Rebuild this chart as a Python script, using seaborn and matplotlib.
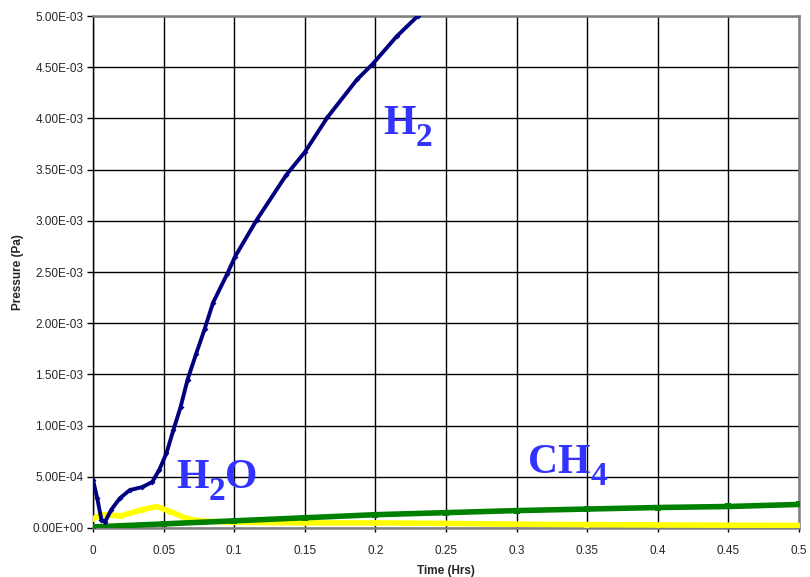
import matplotlib
matplotlib.use("Agg")
import matplotlib.pyplot as plt
import matplotlib.transforms as mtransforms
import seaborn as sns
import pandas as pd
from matplotlib.ticker import FuncFormatter, MultipleLocator

# values
h2_time = [0, 0.003, 0.006, 0.0085, 0.013, 0.019, 0.026, 0.035, 0.042, 0.047,
           0.052, 0.057, 0.062, 0.067, 0.073, 0.079, 0.085, 0.095, 0.1006,
           0.116, 0.137, 0.150, 0.166, 0.187, 0.198, 0.215, 0.230]
h2_pres = [4.7e-4, 2.9e-4, 0.8e-4, 0.6e-4, 1.8e-4, 2.9e-4, 3.7e-4, 4.0e-4, 4.5e-4, 5.7e-4,
           7.3e-4, 9.6e-4, 1.18e-3, 1.45e-3, 1.70e-3, 1.94e-3, 2.2e-3, 2.48e-3, 2.65e-3,
           3.01e-3, 3.45e-3, 3.67e-3, 4.01e-3, 4.38e-3, 4.53e-3, 4.80e-3, 5.0e-3]

h2o_time = [0, 0.006, 0.02, 0.035, 0.045, 0.055, 0.065, 0.075, 0.1, 0.15,
            0.2, 0.25, 0.3, 0.35, 0.4, 0.45, 0.5]
h2o_pres = [0.9e-4, 1.3e-4, 1.2e-4, 1.8e-4, 2.1e-4, 1.6e-4, 1.0e-4, 0.7e-4, 0.55e-4, 0.5e-4,
            0.5e-4, 0.45e-4, 0.37e-4, 0.33e-4, 0.3e-4, 0.27e-4, 0.25e-4]

ch4_time = [0, 0.05, 0.1, 0.15, 0.2, 0.25, 0.3, 0.35, 0.4, 0.45, 0.5]
ch4_pres = [0.1e-4, 0.4e-4, 0.7e-4, 1.0e-4, 1.3e-4, 1.5e-4, 1.7e-4, 1.85e-4, 2.0e-4, 2.1e-4, 2.3e-4]

# gas labels: pieces of (text, is_subscript), anchored at data coords
gas_labels = [
    ([("H", False), ("2", True)], 0.2054, 3.85e-3),
    ([("H", False), ("2", True), ("O", False)], 0.059, 0.39e-3),
    ([("CH", False), ("4", True)], 0.308, 0.54e-3),
]

sns.set_style("white")
plt.rcParams["font.family"] = ["Liberation Sans", "DejaVu Sans"]

df_h2 = pd.DataFrame({"Time": h2_time, "Pressure": h2_pres})
df_h2o = pd.DataFrame({"Time": h2o_time, "Pressure": h2o_pres})
df_ch4 = pd.DataFrame({"Time": ch4_time, "Pressure": ch4_pres})

fig = plt.figure(figsize=(8.1, 5.77), dpi=100)
ax = fig.add_axes([93 / 810, 1 - 528 / 577, 706 / 810, 512 / 577])

sns.lineplot(data=df_h2o, x="Time", y="Pressure", ax=ax, color="#FFFF00",
             linewidth=4, marker="^", markersize=4, markeredgewidth=0, zorder=3)
sns.lineplot(data=df_ch4, x="Time", y="Pressure", ax=ax, color="#008000",
             linewidth=4, marker="s", markersize=4, markeredgewidth=0, zorder=4)
sns.lineplot(data=df_h2, x="Time", y="Pressure", ax=ax, color="#000080",
             linewidth=2.8, marker="D", markersize=3, markeredgewidth=0, zorder=5)

ax.set_xlim(0, 0.5)
ax.set_ylim(0, 5e-3)
ax.xaxis.set_major_locator(MultipleLocator(0.05))
ax.yaxis.set_major_locator(MultipleLocator(5e-4))
ax.xaxis.set_major_formatter(FuncFormatter(lambda v, p: f"{v:g}"))
ax.yaxis.set_major_formatter(FuncFormatter(lambda v, p: f"{v:.2E}"))
ax.grid(True, color="black", linewidth=1)
ax.set_axisbelow(True)
ax.tick_params(axis="both", labelsize=8.5, width=1, color="black", direction="out")
ax.tick_params(axis="x", length=3, pad=9)
ax.tick_params(axis="y", length=4, pad=3)
ax.xaxis.set_ticks_position("bottom")
ax.yaxis.set_ticks_position("left")

for side in ["top", "right", "bottom"]:
    ax.spines[side].set_color("#808080")
    ax.spines[side].set_linewidth(1.8)
ax.spines["left"].set_color("black")
ax.spines["left"].set_linewidth(1)

ax.set_xlabel("Time (Hrs)", fontsize=8.5, fontweight="bold", labelpad=6)
ax.set_ylabel("Pressure (Pa)", fontsize=8.5, fontweight="bold", labelpad=6)

# draw the gas labels piece by piece so the subscripts sit like the original
label_color = "#3333FF"
fig.canvas.draw()
renderer = fig.canvas.get_renderer()
for pieces, x0, y0 in gas_labels:
    dx = 0.0
    for txt, sub in pieces:
        size = 24 if sub else 30
        dy = -12 if sub else 0
        offset = mtransforms.offset_copy(ax.transData, fig=fig, x=dx, y=dy, units="dots")
        t = ax.text(x0, y0, txt, transform=offset, color=label_color, fontsize=size,
                    fontweight="bold", family=["Liberation Serif", "DejaVu Serif"], zorder=6)
        dx += t.get_window_extent(renderer).width

fig.savefig("out.png", dpi=100)
